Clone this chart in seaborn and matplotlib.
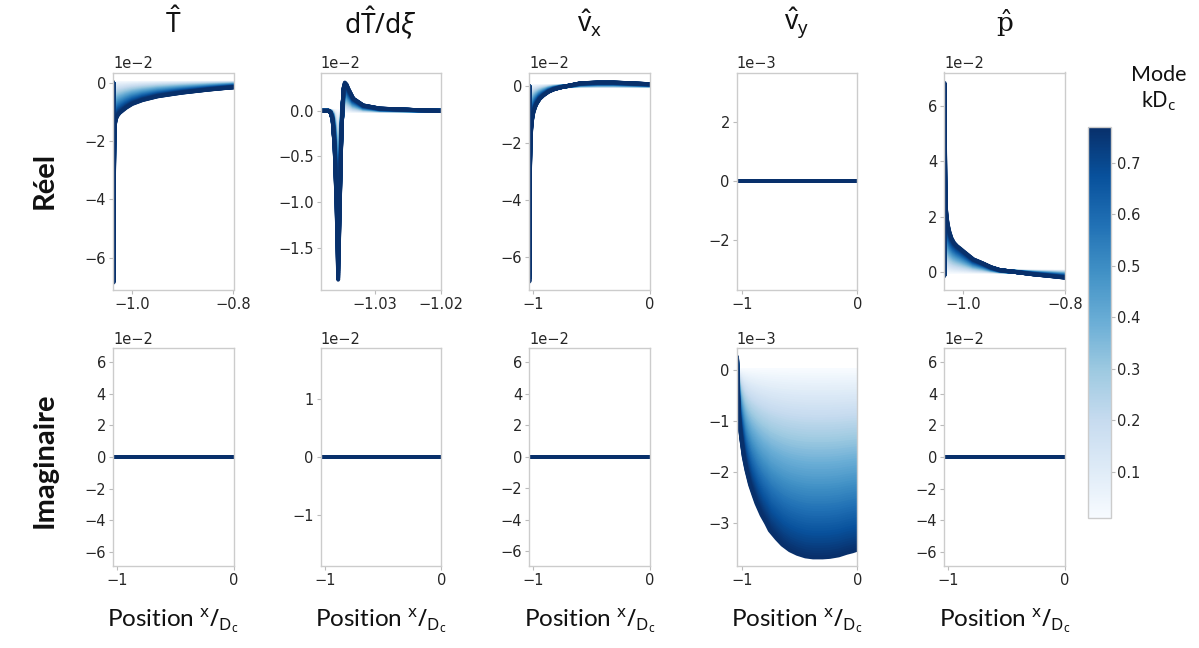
import numpy as np
import pandas as pd
import matplotlib
matplotlib.use("Agg")
import matplotlib.pyplot as plt
import seaborn as sns
from matplotlib.colors import Normalize
from matplotlib.cm import ScalarMappable

# ---------------- data ----------------
# wavenumber modes kDc (colour scale)
modes = [0.01, 0.02, 0.03, 0.04, 0.05, 0.06, 0.07, 0.08, 0.09, 0.10,
         0.11, 0.12, 0.13, 0.14, 0.15, 0.16, 0.17, 0.18, 0.19, 0.20,
         0.21, 0.22, 0.23, 0.24, 0.25, 0.26, 0.27, 0.28, 0.29, 0.30,
         0.31, 0.32, 0.33, 0.34, 0.35, 0.36, 0.37, 0.38, 0.39, 0.40,
         0.41, 0.42, 0.43, 0.44, 0.45, 0.46, 0.47, 0.48, 0.49, 0.50,
         0.51, 0.52, 0.53, 0.54, 0.55, 0.56, 0.57, 0.58, 0.59, 0.60,
         0.61, 0.62, 0.63, 0.64, 0.65, 0.66, 0.67, 0.68, 0.69, 0.70,
         0.71, 0.72, 0.73, 0.74, 0.75, 0.76, 0.77]

# Real part, profile of the highest mode (lowest mode is ~0 everywhere)
T_x = [-1.0375, -1.0368, -1.0364, -1.0360, -1.0355, -1.0348, -1.034, -1.032,
       -1.029, -1.025, -1.02, -1.012, -1.0, -0.98, -0.95, -0.92, -0.9,
       -0.87, -0.85, -0.82, -0.8]
T_re = [0.0, -6.85, -5.0, -3.3, -2.2, -1.65, -1.42, -1.24, -1.13, -1.04,
        -0.97, -0.86, -0.73, -0.6, -0.47, -0.39, -0.34, -0.28, -0.24,
        -0.19, -0.16]                                                    # x1e-2

dT_x = [-1.03823, -1.0370, -1.0367, -1.0364, -1.0361, -1.0358, -1.03556,
        -1.0353, -1.0351, -1.0349, -1.03475, -1.03455, -1.0343, -1.03404,
        -1.03328, -1.03177, -1.02924, -1.0242, -1.02]
dT_re = [0.0, 0.0, -0.02, -0.1, -0.4, -1.05, -1.85, -1.0, -0.35, 0.05,
         0.25, 0.31, 0.29, 0.245, 0.135, 0.06, 0.025, 0.01, 0.0]         # x1e-2

vx_x = [-1.034, -1.0325, -1.031, -1.028, -1.024, -1.018, -1.01, -1.0, -0.985,
        -0.971, -0.945, -0.914, -0.87, -0.828, -0.77, -0.713, -0.598, -0.45,
        -0.31, -0.15, 0.0]
vx_re = [0.0, -6.88, -4.6, -3.0, -2.1, -1.55, -1.2, -0.95, -0.75, -0.62,
         -0.45, -0.33, -0.2, -0.12, -0.05, 0.0, 0.1, 0.13, 0.13, 0.1, 0.07]  # x1e-2

vy_x = [-1.043, 0.0]
vy_re = [0.0, 0.0]                                                       # x1e-3

p_x = [-1.037, -1.0362, -1.0357, -1.0352, -1.0346, -1.034, -1.032, -1.030,
       -1.027, -1.023, -1.018, -1.012, -1.0065, -1.0, -0.99, -0.98, -0.961,
       -0.945, -0.928, -0.895, -0.862, -0.83, -0.8]
p_re = [-0.15, 6.85, 5.0, 3.6, 2.8, 2.35, 1.95, 1.7, 1.45, 1.22, 1.05, 0.93,
        0.85, 0.75, 0.6, 0.45, 0.3, 0.16, 0.06, -0.02, -0.1, -0.16, -0.22]  # x1e-2

# Imaginary part
zero_x = [-1.045, 0.0]
zero_im = [0.0, 0.0]
vy_im_x = [-1.043, -1.04, -1.035, -1.025, -1.015, -1.005, -0.985, -0.962,
           -0.93, -0.9, -0.875, -0.83, -0.79, -0.759, -0.7, -0.65, -0.585,
           -0.52, -0.45, -0.383, -0.3, -0.237, -0.16, -0.092, -0.04, 0.0]
vy_im = [0.26, -0.1, -0.52, -0.95, -1.18, -1.37, -1.7, -1.96, -2.25, -2.45,
         -2.61, -2.84, -3.0, -3.14, -3.3, -3.42, -3.53, -3.6, -3.65, -3.67,
         -3.67, -3.66, -3.63, -3.58, -3.55, -3.52]                       # x1e-3

col_titles = [r"$\hat{\mathrm{T}}$", r"$\mathrm{d}\hat{\mathrm{T}}/\mathrm{d}\xi$",
              r"$\hat{\mathrm{v}}_{\mathrm{x}}$", r"$\hat{\mathrm{v}}_{\mathrm{y}}$",
              r"$\hat{\mathrm{p}}$"]
title_math_fonts = ["custom", "custom", "custom", "custom", "dejavuserif"]
row_titles = ["Réel", "Imaginaire"]
xlabel_txt = r"Position $^{\mathrm{x}}/_{\mathrm{D_c}}$"
cbar_title = ["Mode", r"k$\mathrm{D_c}$"]
cbar_ticks = [0.1, 0.2, 0.3, 0.4, 0.5, 0.6, 0.7]

# ---------------- style ----------------
sns.set_style("white")
plt.rcParams.update({
    "font.family": ["DejaVu Sans"],
    "axes.edgecolor": "#cccccc",
    "axes.linewidth": 1.0,
    "xtick.bottom": True, "ytick.left": True,
    "xtick.color": "#bbbbbb", "ytick.color": "#bbbbbb",
    "xtick.labelcolor": "#262626", "ytick.labelcolor": "#262626",
    "xtick.major.size": 3, "ytick.major.size": 3,
    "xtick.major.width": 0.8, "ytick.major.width": 0.8,
    "xtick.major.pad": 2, "ytick.major.pad": 2,
    "mathtext.fontset": "custom",
    "mathtext.rm": "Noto Sans",
    "mathtext.it": "Noto Sans:italic",
    "mathtext.bf": "Noto Sans:bold",
})

W, H = 1199, 648
fig = plt.figure(figsize=(W / 100, H / 100), dpi=100)

lo, hi = min(modes), max(modes)


def family(xs, prof, scale):
    rows = []
    for m in modes:
        w = (m - lo) / (hi - lo)
        for x, y in zip(xs, prof):
            rows.append((x, y * w * scale, m))
    return pd.DataFrame(rows, columns=["x", "y", "mode"])


panels = [
    # row 0
    (T_x, T_re, 1e-2, (-1.038, -0.8), [-1.0, -0.8], (-7.1e-2, 0.35e-2), [-6e-2, -4e-2, -2e-2, 0]),
    (dT_x, dT_re, 1e-2, (-1.0382, -1.02), [-1.03, -1.02], (-1.96e-2, 0.42e-2), [-1.5e-2, -1.0e-2, -0.5e-2, 0]),
    (vx_x, vx_re, 1e-2, (-1.034, 0.0), [-1, 0], (-7.17e-2, 0.48e-2), [-6e-2, -4e-2, -2e-2, 0]),
    (vy_x, vy_re, 1e-3, (-1.043, 0.0), [-1, 0], (-3.69e-3, 3.69e-3), [-2e-3, 0, 2e-3]),
    (p_x, p_re, 1e-2, (-1.037, -0.8), [-1.0, -0.8], (-0.66e-2, 7.23e-2), [0, 2e-2, 4e-2, 6e-2]),
    # row 1
    (zero_x, zero_im, 1e-2, (-1.034, 0.0), [-1, 0], (-6.86e-2, 6.86e-2), [-6e-2, -4e-2, -2e-2, 0, 2e-2, 4e-2, 6e-2]),
    (zero_x, zero_im, 1e-2, (-1.04, 0.0), [-1, 0], (-1.87e-2, 1.87e-2), [-1e-2, 0, 1e-2]),
    (zero_x, zero_im, 1e-2, (-1.034, 0.0), [-1, 0], (-6.9e-2, 6.9e-2), [-6e-2, -4e-2, -2e-2, 0, 2e-2, 4e-2, 6e-2]),
    (vy_im_x, vy_im, 1e-3, (-1.046, 0.0), [-1, 0], (-3.83e-3, 0.43e-3), [-3e-3, -2e-3, -1e-3, 0]),
    (zero_x, zero_im, 1e-2, (-1.034, 0.0), [-1, 0], (-6.86e-2, 6.86e-2), [-6e-2, -4e-2, -2e-2, 0, 2e-2, 4e-2, 6e-2]),
]

col_left = [113, 320.7, 529.3, 736.7, 944.3]
ax_w = 120.5
row_top = [72.5, 348.3]
ax_h = 217.3

for i, (xs, prof, scale, xl, xt, yl, yt) in enumerate(panels):
    r, c = divmod(i, 5)
    ax = fig.add_axes([col_left[c] / W, 1 - (row_top[r] + ax_h) / H, ax_w / W, ax_h / H])
    df = family(xs, prof, scale)
    sns.lineplot(data=df, x="x", y="y", hue="mode", palette="Blues",
                 hue_norm=(lo, hi), estimator=None, sort=False,
                 lw=2.8, legend=False, ax=ax)
    for ln in ax.get_lines():
        ln.set_solid_joinstyle("round")
        ln.set_solid_capstyle("round")
    ax.set_xlim(*xl)
    ax.set_ylim(*yl)
    ax.set_xticks(xt)
    ax.set_yticks(yt)
    ax.ticklabel_format(axis="y", style="sci", scilimits=(0, 0))
    ax.ticklabel_format(axis="x", useOffset=False)
    ax.tick_params(labelsize=10.5)
    ax.yaxis.get_offset_text().set_fontsize(10.5)
    ax.yaxis.get_offset_text().set_color("#262626")
    ax.set_xlabel("")
    ax.set_ylabel("")
    for s in ax.spines.values():
        s.set_color("#cccccc")
    if r == 0:
        fig.text((col_left[c] + ax_w / 2) / W, 1 - 23 / H, col_titles[c],
                 ha="center", va="center", fontsize=19, color="#111111",
                 math_fontfamily=title_math_fonts[c])
    else:
        fig.text((col_left[c] + ax_w / 2) / W, 1 - 621 / H, xlabel_txt,
                 ha="center", va="center", fontsize=17.5, color="#111111",
                 family=["Lato", "DejaVu Sans"])

# row titles
fig.text(45 / W, 1 - 180 / H, row_titles[0], rotation=90, ha="center", va="center",
         fontsize=21, fontweight="bold", family=["Lato", "DejaVu Sans"], color="#111111")
fig.text(45 / W, 1 - 460 / H, row_titles[1], rotation=90, ha="center", va="center",
         fontsize=21, fontweight="bold", family=["Lato", "DejaVu Sans"], color="#111111")

# colour bar
cax = fig.add_axes([1088 / W, 1 - 518 / H, 22.5 / W, 391 / H])
sm = ScalarMappable(norm=Normalize(lo, hi), cmap="Blues")
cb = fig.colorbar(sm, cax=cax)
cb.set_ticks(cbar_ticks)
cb.ax.tick_params(labelsize=10.5, length=3, color="#bbbbbb", labelcolor="#262626")
cb.outline.set_edgecolor("#cccccc")
fig.text(1159 / W, 1 - 75 / H, cbar_title[0], ha="center", va="center", fontsize=15.5,
         family=["Lato", "DejaVu Sans"], color="#111111")
fig.text(1159 / W, 1 - 101 / H, cbar_title[1], ha="center", va="center", fontsize=15.5,
         family=["Lato", "DejaVu Sans"], color="#111111")

fig.savefig("out.png", dpi=100)
